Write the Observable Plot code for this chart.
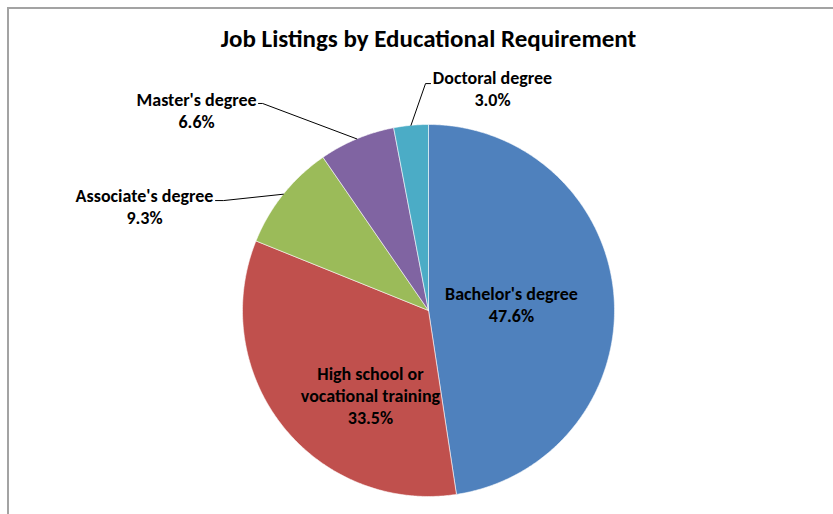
<!DOCTYPE html>
<html>
<head>
<meta charset="utf-8">
<script src="https://cdn.jsdelivr.net/npm/d3@7"></script>
<script src="https://cdn.jsdelivr.net/npm/@observablehq/plot@0.6"></script>
<style>
  html, body { margin: 0; padding: 0; background: #fff; }
  #wrap { position: relative; width: 833px; height: 514px; overflow: hidden; background: #fff; }
  #frame { position: absolute; left: 7px; top: 7px; width: 1000px; height: 700px;
           border-left: 2px solid #a3a3a3; border-top: 2px solid #a3a3a3; }
  #chart { position: absolute; left: 0; top: 0; }
</style>
</head>
<body>
<div id="wrap"><div id="frame"></div><div id="chart"></div></div>
<script>
// ---- data ----
const title = "Job Listings by Educational Requirement";
const categories = ["Bachelor's degree", "High school or\nvocational training", "Associate's degree", "Master's degree", "Doctoral degree"];
const shares = [47.6, 33.5, 9.3, 6.6, 3.0];
const colors = ["#4F81BD", "#C0504D", "#9BBB59", "#8064A2", "#4BACC6"];

// ---- label layout (in pie units: radius = 1, y up) ----
const labelLayout = [
  {tx: 0.446, ty: 0.035},
  {tx: -0.312, ty: -0.452},
  {tx: -1.527, ty: 0.562, elbow: [-1.102, 0.591], end: [-1.145, 0.591]},
  {tx: -1.247, ty: 1.080, elbow: [-0.892, 1.113], end: [-0.914, 1.113]},
  {tx: 0.344, ty: 1.195, elbow: [-0.016, 1.220], end: [0.011, 1.220]}
];

const total = d3.sum(shares);
let acc = 0;
const slices = categories.map((name, i) => {
  const a0 = acc / total * 2 * Math.PI;
  acc += shares[i];
  const a1 = acc / total * 2 * Math.PI;
  return {name, share: shares[i], color: colors[i], a0, a1, mid: (a0 + a1) / 2, i};
});

const polyPts = slices.flatMap(s => {
  const n = Math.max(2, Math.ceil((s.a1 - s.a0) / (Math.PI / 360)));
  const pts = [{name: s.name, color: s.color, x: 0, y: 0}];
  for (let k = 0; k <= n; k++) {
    const a = s.a0 + (s.a1 - s.a0) * k / n;
    pts.push({name: s.name, color: s.color, x: Math.sin(a), y: Math.cos(a)});
  }
  pts.push({name: s.name, color: s.color, x: 0, y: 0});
  return pts;
});

const labels = slices.map(s => ({
  label: s.name + "\n" + s.share.toFixed(1) + "%",
  tx: labelLayout[s.i].tx, ty: labelLayout[s.i].ty
}));

const leaderPts = slices.filter(s => labelLayout[s.i].elbow).flatMap(s => {
  const L = labelLayout[s.i];
  return [
    {name: s.name, x: Math.sin(s.mid), y: Math.cos(s.mid)},
    {name: s.name, x: L.elbow[0], y: L.elbow[1]},
    {name: s.name, x: L.end[0], y: L.end[1]}
  ];
});

const font = "Carlito, 'Liberation Sans Narrow', 'DejaVu Sans Condensed', 'Open Sans', sans-serif";

const chart = Plot.plot({
  width: 833,
  height: 514,
  margin: 0,
  x: {domain: [-1, 1], range: [242, 614], axis: null},
  y: {domain: [-1, 1], range: [496, 124], axis: null},
  color: {type: "identity"},
  style: {fontFamily: font, background: "transparent", overflow: "visible"},
  marks: [
    Plot.line(polyPts, {x: "x", y: "y", z: "name", fill: "color", stroke: "#ffffff", strokeWidth: 0.8, strokeOpacity: 0.7, curve: "linear"}),
    Plot.line(leaderPts, {x: "x", y: "y", z: "name", stroke: "#000000", strokeWidth: 1}),
    Plot.text(labels, {x: "tx", y: "ty", text: "label", fontWeight: "bold", fontSize: 18, lineHeight: 1.22, fill: "#000000", lineAnchor: "middle"}),
    Plot.text([title], {x: () => 0, frameAnchor: "top", dy: 38, text: d => d, fontWeight: "bold", fontSize: 25, fill: "#000000", lineAnchor: "middle"})
  ]
});
document.getElementById("chart").appendChild(chart);
</script>
</body>
</html>
